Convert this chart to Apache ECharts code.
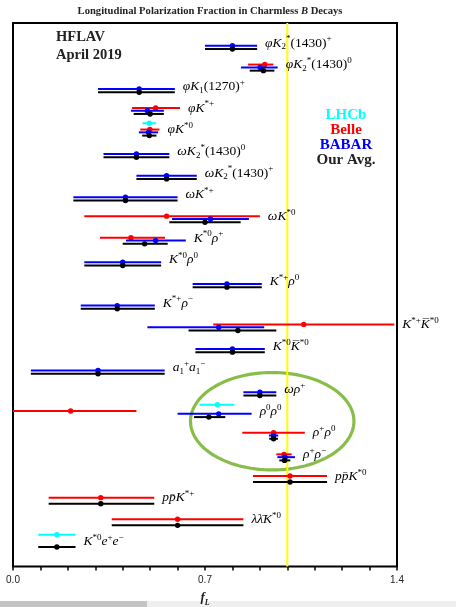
<!DOCTYPE html>
<html>
<head>
<meta charset="utf-8">
<script src="https://cdn.jsdelivr.net/npm/echarts@6/dist/echarts.min.js"></script>
<style>
  html, body { margin: 0; padding: 0; background: #fff; }
  #chart { width: 456px; height: 607px; }
</style>
</head>
<body>
<div id="chart"></div>
<script>
// Decay modes, top to bottom (TeX-like: ^ superscript, _ subscript)
const decayModes = [
  'φK_2^*(1430)^+',
  'φK_2^*(1430)^0',
  'φK_1(1270)^+',
  'φK^{*+}',
  'φK^{*0}',
  'ωK_2^*(1430)^0',
  'ωK_2^*(1430)^+',
  'ωK^{*+}',
  'ωK^{*0}',
  'K^{*0}ρ^+',
  'K^{*0}ρ^0',
  'K^{*+}ρ^0',
  'K^{*+}ρ^−',
  'K^{*+}K\u0305^{*0}',
  'K^{*0}K\u0305^{*0}',
  'a_1^+a_1^−',
  'ωρ^+',
  'ρ^0ρ^0',
  'ρ^+ρ^0',
  'ρ^+ρ^−',
  'pp\u0304K^{*0}',
  'pp\u0304K^{*+}',
  'λλ\u0304K^{*0}',
  'K^{*0}e^+e^−'
];

// Measurements: [mode index, f_L, minus error, plus error]
const lhcbValues = [
  [4, 0.497, 0.025, 0.025], [17, 0.745, 0.065, 0.062], [23, 0.16, 0.068, 0.068]
];
const belleValues = [
  [1, 0.918, 0.061, 0.031], [3, 0.52, 0.086, 0.089], [4, 0.499, 0.035, 0.035],
  [8, 0.56, 0.30, 0.34], [9, 0.43, 0.113, 0.124], [13, 1.06, 0.33, 0.33],
  [17, 0.21, 0.26, 0.24], [18, 0.95, 0.114, 0.114], [19, 0.988, 0.028, 0.028],
  [20, 1.01, 0.135, 0.135], [21, 0.32, 0.19, 0.195], [22, 0.60, 0.24, 0.24]
];
const babarValues = [
  [0, 0.80, 0.10, 0.09], [1, 0.901, 0.07, 0.064], [2, 0.46, 0.15, 0.13],
  [3, 0.49, 0.06, 0.06], [4, 0.494, 0.035, 0.035], [5, 0.45, 0.12, 0.12],
  [6, 0.56, 0.11, 0.11], [7, 0.41, 0.19, 0.19], [8, 0.72, 0.14, 0.14],
  [9, 0.52, 0.108, 0.11], [10, 0.40, 0.14, 0.14], [11, 0.78, 0.125, 0.127],
  [12, 0.38, 0.133, 0.137], [13, 0.75, 0.26, 0.166], [14, 0.80, 0.135, 0.118],
  [15, 0.31, 0.245, 0.243], [16, 0.90, 0.06, 0.06], [17, 0.75, 0.15, 0.12],
  [18, 0.95, 0.017, 0.017], [19, 0.992, 0.028, 0.036]
];
const averageValues = [
  [0, 0.80, 0.10, 0.09], [1, 0.913, 0.05, 0.04], [2, 0.46, 0.15, 0.13],
  [3, 0.50, 0.06, 0.05], [4, 0.497, 0.026, 0.026], [5, 0.45, 0.12, 0.12],
  [6, 0.56, 0.11, 0.11], [7, 0.41, 0.19, 0.19], [8, 0.70, 0.13, 0.13],
  [9, 0.48, 0.08, 0.084], [10, 0.40, 0.14, 0.14], [11, 0.78, 0.125, 0.127],
  [12, 0.38, 0.133, 0.137], [13, 0.82, 0.18, 0.14], [14, 0.80, 0.135, 0.118],
  [15, 0.31, 0.245, 0.243], [16, 0.90, 0.06, 0.06], [17, 0.714, 0.054, 0.06],
  [18, 0.95, 0.016, 0.016], [19, 0.990, 0.019, 0.021], [20, 1.01, 0.135, 0.135],
  [21, 0.32, 0.19, 0.195], [22, 0.60, 0.24, 0.24], [23, 0.16, 0.068, 0.068]
];

const xTickLabels = [0.0, 0.7, 1.4];
const referenceValue = 1.0;
// ellipse marking the ρρ / ωρ modes: centre (f_L, row) and radii
const highlightEllipse = { center: [0.945, 18.39], radii: [0.298, 2.25] };

const X_MIN = 0, X_MAX = 1.4, Y_MAX = 25.1, FIRST_ROW = 1.2;

const experiments = [
  { name: 'LHCb',     color: '#00ffff', values: lhcbValues,    shift: -0.57 },
  { name: 'Belle',    color: '#ff0000', values: belleValues,   shift: -0.28 },
  { name: 'BABAR',    color: '#0000ff', values: babarValues,   shift: -0.15 },
  { name: 'Our Avg.', color: '#000000', values: averageValues, shift: 0 }
];

// TeX-like label -> ECharts rich string
function toRich(s) {
  let out = '', buf = '', bufStyle = null;
  const flush = () => { if (buf) { out += '{' + bufStyle + '|' + buf + '}'; buf = ''; } };
  const chars = Array.from(s);
  for (let i = 0; i < chars.length;) {
    const c = chars[i];
    if (c === '^' || c === '_') {
      flush();
      i++;
      let grp;
      if (chars[i] === '{') {
        let j = i + 1; grp = '';
        while (chars[j] !== '}') { grp += chars[j]; j++; }
        i = j + 1;
      } else { grp = chars[i]; i++; }
      out += '{' + (c === '^' ? 'sp' : 'sb') + '|' + grp + '}';
    } else {
      const st = /[0-9()]/.test(c) ? 'n' : 'm';
      if (st !== bufStyle && !/[\u0300-\u036f]/.test(c)) { flush(); bufStyle = st; }
      buf += c; i++;
    }
  }
  flush();
  return out;
}

const labelFont = 'Liberation Serif';
const labelColor = '#333';
const labelRich = {
  m:  { fontFamily: labelFont, fontStyle: 'italic', fontSize: 13.5, color: labelColor, lineHeight: 17, verticalAlign: 'middle' },
  n:  { fontFamily: labelFont, fontSize: 13.5, color: labelColor, lineHeight: 17, verticalAlign: 'middle' },
  sp: { fontFamily: labelFont, fontSize: 9, color: labelColor, verticalAlign: 'top' },
  sb: { fontFamily: labelFont, fontSize: 9, color: labelColor, verticalAlign: 'bottom' }
};

const rowOf = (idx) => idx + FIRST_ROW;

function errorBarSeries(exp) {
  return {
    type: 'custom',
    name: exp.name,
    coordinateSystem: 'cartesian2d',
    z: 5,
    data: exp.values.map(d => [d[1], rowOf(d[0]) + exp.shift, d[2], d[3]]),
    renderItem: function (params, api) {
      const v = api.value(0), y = api.value(1);
      const lo = Math.max(X_MIN, v - api.value(2));
      const hi = Math.min(X_MAX, v + api.value(3));
      const a = api.coord([lo, y]), b = api.coord([hi, y]), c = api.coord([v, y]);
      return {
        type: 'group',
        children: [
          { type: 'line', shape: { x1: a[0], y1: c[1], x2: b[0], y2: c[1] },
            style: { stroke: exp.color, lineWidth: 2 } },
          { type: 'circle', shape: { cx: c[0], cy: c[1], r: 2.7 },
            style: { fill: exp.color } }
        ]
      };
    }
  };
}

// label anchor: right end of the widest bar of each mode
const labelData = decayModes.map((name, idx) => {
  let right = X_MIN;
  experiments.forEach(exp => exp.values.forEach(d => {
    if (d[0] === idx) right = Math.max(right, Math.min(X_MAX, d[1] + d[3]));
  }));
  return [right, rowOf(idx) - 0.27, idx];
});

const chart = echarts.init(document.getElementById('chart'), null, { renderer: 'canvas' });

chart.setOption({
  animation: false,
  backgroundColor: '#fff',
  title: {
    text: '{b|Longitudinal Polarization Fraction in Charmless }{bi|B}{b| Decays}',
    left: 205, top: 1, textAlign: 'center',
    textStyle: {
      rich: {
        b:  { fontFamily: 'Liberation Serif', fontWeight: 'bold', fontSize: 10.6, color: '#222' },
        bi: { fontFamily: 'Liberation Serif', fontWeight: 'bold', fontStyle: 'italic', fontSize: 10.6, color: '#222' }
      }
    }
  },
  grid: {
    left: 13, top: 23, width: 384, height: 543.5,
    containLabel: false, outerBoundsMode: 'none',
    show: true, borderColor: '#000', borderWidth: 2, backgroundColor: 'transparent'
  },
  xAxis: {
    type: 'value', min: X_MIN, max: X_MAX, interval: 0.1, position: 'bottom',
    axisLine: { show: false, onZero: false },
    axisTick: { show: true, length: 4, inside: false, lineStyle: { color: '#000', width: 1.5 } },
    splitLine: { show: false },
    axisLabel: {
      margin: 9, fontFamily: 'Liberation Sans', fontSize: 10, color: '#222',
      showMinLabel: true, showMaxLabel: true,
      formatter: v => xTickLabels.some(t => Math.abs(t - v) < 1e-6) ? v.toFixed(1) : ''
    },
    name: '{f|f}{s|L}', nameLocation: 'middle', nameGap: 25,
    nameTextStyle: {
      rich: {
        f: { fontFamily: 'Liberation Serif', fontWeight: 'bold', fontStyle: 'italic', fontSize: 13, color: '#222', verticalAlign: 'top', lineHeight: 15 },
        s: { fontFamily: 'Liberation Serif', fontWeight: 'bold', fontStyle: 'italic', fontSize: 8, color: '#222', verticalAlign: 'bottom' }
      }
    }
  },
  yAxis: { type: 'value', min: 0, max: Y_MAX, inverse: true, show: false },
  graphic: [
    { type: 'text', left: 56, top: 30, style: { text: 'HFLAV', font: 'bold 14.5px "Liberation Serif"', fill: '#222' } },
    { type: 'text', left: 56, top: 48, style: { text: 'April 2019', font: 'bold 14.5px "Liberation Serif"', fill: '#222' } },
    ...experiments.map((exp, i) => ({
      type: 'text', x: 346, y: 115 + 15.2 * i,
      style: { text: exp.name, font: 'bold 15px "Liberation Serif"', fill: exp.color === '#000000' ? '#222' : exp.color,
               align: 'center', verticalAlign: 'middle' }
    })),
    { type: 'rect', left: 0, top: 601, shape: { width: 147, height: 6 }, style: { fill: '#c4c4c4' } },
    { type: 'rect', left: 147, top: 601, shape: { width: 309, height: 6 }, style: { fill: '#efefef' } }
  ],
  series: [
    {
      type: 'custom',
      name: 'highlight',
      z: 1,
      data: [[highlightEllipse.center[0], highlightEllipse.center[1], highlightEllipse.radii[0], highlightEllipse.radii[1]]],
      renderItem: function (params, api) {
        const c = api.coord([api.value(0), api.value(1)]);
        const r = api.size([api.value(2), api.value(3)]);
        const pts = [];
        for (let k = 0; k <= 120; k++) {
          const t = (k / 120) * Math.PI * 2;
          pts.push([c[0] + r[0] * Math.cos(t), c[1] + r[1] * Math.sin(t)]);
        }
        return { type: 'polyline', shape: { points: pts }, style: { stroke: '#88bd4a', lineWidth: 3.2, fill: null } };
      }
    },
    {
      type: 'custom',
      name: 'reference',
      z: 2,
      data: [[referenceValue]],
      renderItem: function (params, api) {
        const top = api.coord([api.value(0), 0]);
        const bot = api.coord([api.value(0), Y_MAX]);
        return { type: 'line', shape: { x1: top[0], y1: top[1], x2: bot[0], y2: bot[1] },
                 style: { stroke: '#ffff00', lineWidth: 2 } };
      }
    },
    ...experiments.map(errorBarSeries),
    {
      type: 'custom',
      name: 'labels',
      z: 6,
      data: labelData,
      renderItem: function (params, api) {
        const p = api.coord([api.value(0), api.value(1)]);
        return {
          type: 'text', x: p[0] + 8, y: p[1],
          style: { text: toRich(decayModes[api.value(2)]), rich: labelRich, align: 'left', verticalAlign: 'middle' }
        };
      }
    }
  ]
});
</script>
</body>
</html>
